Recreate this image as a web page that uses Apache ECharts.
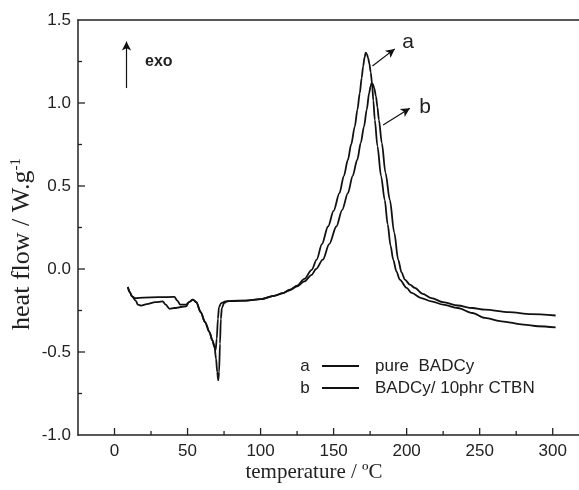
<!DOCTYPE html>
<html><head><meta charset="utf-8">
<script src="https://cdn.jsdelivr.net/npm/echarts@6/dist/echarts.min.js"></script>
<style>html,body{margin:0;padding:0;background:#fff}#c{width:579px;height:490px}</style>
</head><body><div id="c"></div>
<script>
// temperature (°C) and heat flow (W/g) for curve a: pure BADCy
const tempA = [9.1,10.5,12,14,20,30,41,43,45,49,51,53.7,56,59,62,65,67,68.5,69.5,70.3,71,71.6,72.2,72.8,73.5,75,77,80,90,100,110,115,120,125,130,135,138.4,142,146.2,150,154,157,159.8,162,164.5,166.3,167.9,169.2,170.2,171.2,172,172.8,173.6,174.5,175.4,176.3,177.2,178.2,180,182.5,185,187,189,190.8,193,195.3,200,203.4,210,217,225,235,245,253.6,265,280,290,302];
const flowA = [-0.108,-0.14,-0.165,-0.175,-0.172,-0.17,-0.168,-0.19,-0.215,-0.215,-0.2,-0.185,-0.2,-0.26,-0.32,-0.38,-0.43,-0.47,-0.54,-0.62,-0.67,-0.62,-0.45,-0.3,-0.235,-0.205,-0.195,-0.193,-0.19,-0.182,-0.16,-0.145,-0.125,-0.1,-0.06,-0.005,0.056,0.15,0.256,0.35,0.457,0.56,0.658,0.75,0.858,0.96,1.059,1.15,1.22,1.275,1.303,1.295,1.272,1.237,1.185,1.119,1.015,0.898,0.74,0.56,0.416,0.27,0.14,0.056,-0.014,-0.064,-0.114,-0.144,-0.175,-0.195,-0.215,-0.235,-0.265,-0.295,-0.315,-0.335,-0.345,-0.352];
// curve b: BADCy / 10phr CTBN
const tempB = [9.1,10.5,12,14.5,16,18.3,22,28,33,35,37.7,41,45.7,49,51,53.7,56,59,62,65,67,68.5,69.2,70,70.8,71.5,73,76,80,90,100,110,115,120,125,130,135,138,142.6,147,151.9,155.8,159.8,163,166.2,168.6,170.8,172.7,174.3,175.3,176,176.8,177.8,179,180,181,183,185.5,188.5,191.5,194.2,196.5,198.8,202.2,205.6,211,217,225,235,245,253.6,270,285,302];
const flowB = [-0.108,-0.14,-0.165,-0.19,-0.215,-0.221,-0.212,-0.2,-0.195,-0.215,-0.24,-0.235,-0.229,-0.225,-0.2,-0.185,-0.2,-0.26,-0.32,-0.38,-0.43,-0.47,-0.49,-0.42,-0.3,-0.23,-0.205,-0.195,-0.192,-0.19,-0.182,-0.16,-0.147,-0.128,-0.105,-0.075,-0.035,0.0,0.056,0.15,0.256,0.355,0.457,0.56,0.658,0.76,0.858,0.96,1.059,1.1,1.12,1.115,1.09,1.04,0.975,0.898,0.76,0.58,0.416,0.22,0.056,-0.02,-0.064,-0.094,-0.114,-0.15,-0.175,-0.2,-0.22,-0.235,-0.245,-0.26,-0.272,-0.28];

// tick values
const xTicks = [0,50,100,150,200,250,300];
const xMinorTicks = [25,75,125,175,225,275];
const yTicks = [-0.5,0,0.5,1.0];
const yMinorTicks = [-0.75,-0.25,0.25,0.75,1.25];
const xMin = -25, xMax = 318, yMin = -1, yMax = 1.5, yStep = 0.5;

// annotation arrows (data coords): [start, end]
const arrowExo = [[8.2,1.09],[8.2,1.37]];
const arrowA = [[176.6,1.223],[191.9,1.326]];
const arrowB = [[183.9,0.868],[202.2,0.969]];

const seriesNames = ['pure  BADCy','BADCy/ 10phr CTBN'];

const lineColor = '#111';
const axisColor = '#222';
const MAJOR = 7, MINOR = 4;
const pairs = (xs, ys) => xs.map((x,i)=>[x, ys[i]]);

const chart = echarts.init(document.getElementById('c'));
const gridRect = {left:78, top:20, right:0, bottom:55, containLabel:false, outerBoundsMode:'none'};

const xTickData = xTicks.map(v=>[v, yMin, MAJOR]).concat(xMinorTicks.map(v=>[v, yMin, MINOR]));
const yTickData = yTicks.map(v=>[xMin, v, MAJOR]).concat(yMinorTicks.map(v=>[xMin, v, MINOR]));

chart.setOption({
  animation: false,
  backgroundColor: '#fff',
  grid: [Object.assign({}, gridRect), Object.assign({}, gridRect)],
  xAxis: [
    {type:'value', gridIndex:0, min:xMin, max:xMax, position:'bottom', splitLine:{show:false},
     axisLine:{show:true, onZero:false, lineStyle:{color:axisColor, width:1.5}},
     axisTick:{show:false},
     axisLabel:{show:true, customValues:xTicks, margin:8, fontFamily:'Liberation Sans', fontSize:17, color:axisColor}},
    {type:'value', gridIndex:1, min:xMin, max:xMax, position:'top', splitLine:{show:false},
     axisLine:{show:true, onZero:false, lineStyle:{color:axisColor, width:1.5}},
     axisTick:{show:false}, axisLabel:{show:false}}
  ],
  yAxis: [
    {type:'value', gridIndex:0, min:yMin, max:yMax, interval:yStep, position:'left', splitLine:{show:false},
     axisLine:{show:true, onZero:false, lineStyle:{color:axisColor, width:1.5}},
     axisTick:{show:false},
     axisLabel:{margin:7, fontFamily:'Liberation Sans', fontSize:17, color:axisColor, formatter:v=>v.toFixed(1)}},
    {type:'value', gridIndex:1, min:yMin, max:yMax, show:false, splitLine:{show:false}}
  ],
  series: [
    {name:seriesNames[0], type:'line', xAxisIndex:0, yAxisIndex:0, data:pairs(tempA, flowA),
     showSymbol:false, symbol:'none', smooth:0.3, smoothMonotone:'x',
     lineStyle:{color:lineColor, width:1.8}, z:3,
     markLine: {silent:true, symbol:['none','arrow'], symbolSize:[7,9], label:{show:false}, animation:false,
       lineStyle:{color:lineColor, width:1.2, type:'solid'},
       data:[[{coord:arrowA[0]},{coord:arrowA[1]}],[{coord:arrowExo[0]},{coord:arrowExo[1]}]]}},
    {name:seriesNames[1], type:'line', xAxisIndex:0, yAxisIndex:0, data:pairs(tempB, flowB),
     showSymbol:false, symbol:'none', smooth:0.3, smoothMonotone:'x',
     lineStyle:{color:lineColor, width:1.8}, z:3,
     markLine: {silent:true, symbol:['none','arrow'], symbolSize:[7,9], label:{show:false}, animation:false,
       lineStyle:{color:lineColor, width:1.2, type:'solid'},
       data:[[{coord:arrowB[0]},{coord:arrowB[1]}]]}},
    // inward axis ticks, positioned through the axes' own scales
    {type:'custom', xAxisIndex:0, yAxisIndex:0, silent:true, clip:false, z:4, data:xTickData,
     renderItem:(params, api)=>{
       const p = api.coord([api.value(0), api.value(1)]);
       return {type:'line', shape:{x1:p[0], y1:p[1], x2:p[0], y2:p[1]-api.value(2)}, style:{stroke:axisColor, lineWidth:1.3}};
     }},
    {type:'custom', xAxisIndex:0, yAxisIndex:0, silent:true, clip:false, z:4, data:yTickData,
     renderItem:(params, api)=>{
       const p = api.coord([api.value(0), api.value(1)]);
       return {type:'line', shape:{x1:p[0], y1:p[1], x2:p[0]+api.value(2), y2:p[1]}, style:{stroke:axisColor, lineWidth:1.3}};
     }}
  ],
  graphic: [
    {type:'text', x:145, y:62, style:{text:'exo', fontFamily:'Liberation Sans', fontSize:16, fontWeight:'bold', fill:axisColor, verticalAlign:'middle'}},
    {type:'text', x:408, y:42, style:{text:'a', fontFamily:'Liberation Sans', fontSize:21, fill:axisColor, align:'center', verticalAlign:'middle'}},
    {type:'text', x:425, y:107, style:{text:'b', fontFamily:'Liberation Sans', fontSize:21, fill:axisColor, align:'center', verticalAlign:'middle'}},
    {type:'text', x:305, y:366, style:{text:'a', fontFamily:'Liberation Sans', fontSize:17, fill:axisColor, align:'center', verticalAlign:'middle'}},
    {type:'text', x:305, y:388, style:{text:'b', fontFamily:'Liberation Sans', fontSize:17, fill:axisColor, align:'center', verticalAlign:'middle'}},
    {type:'line', shape:{x1:322, y1:366, x2:359, y2:366}, style:{stroke:lineColor, lineWidth:1.8}},
    {type:'line', shape:{x1:322, y1:388, x2:359, y2:388}, style:{stroke:lineColor, lineWidth:1.8}},
    {type:'text', x:375, y:366, style:{text:seriesNames[0], fontFamily:'Liberation Sans', fontSize:17, fill:axisColor, verticalAlign:'middle'}},
    {type:'text', x:375, y:388, style:{text:seriesNames[1], fontFamily:'Liberation Sans', fontSize:17, fill:axisColor, verticalAlign:'middle'}},
    {type:'text', x:314, y:472, style:{text:'temperature / ºC', fontFamily:'Liberation Serif', fontSize:21, fill:axisColor, align:'center', verticalAlign:'middle'}},
    {type:'text', x:22, y:244, rotation:Math.PI/2, style:{
      text:'{n|heat flow / W.g}{s|-1}', align:'center', verticalAlign:'middle',
      rich:{n:{fontFamily:'Liberation Serif', fontSize:26, fill:axisColor, color:axisColor},
            s:{fontFamily:'Liberation Serif', fontSize:15, fill:axisColor, color:axisColor, padding:[0,0,11,0]}}}}
  ]
});
</script></body></html>
